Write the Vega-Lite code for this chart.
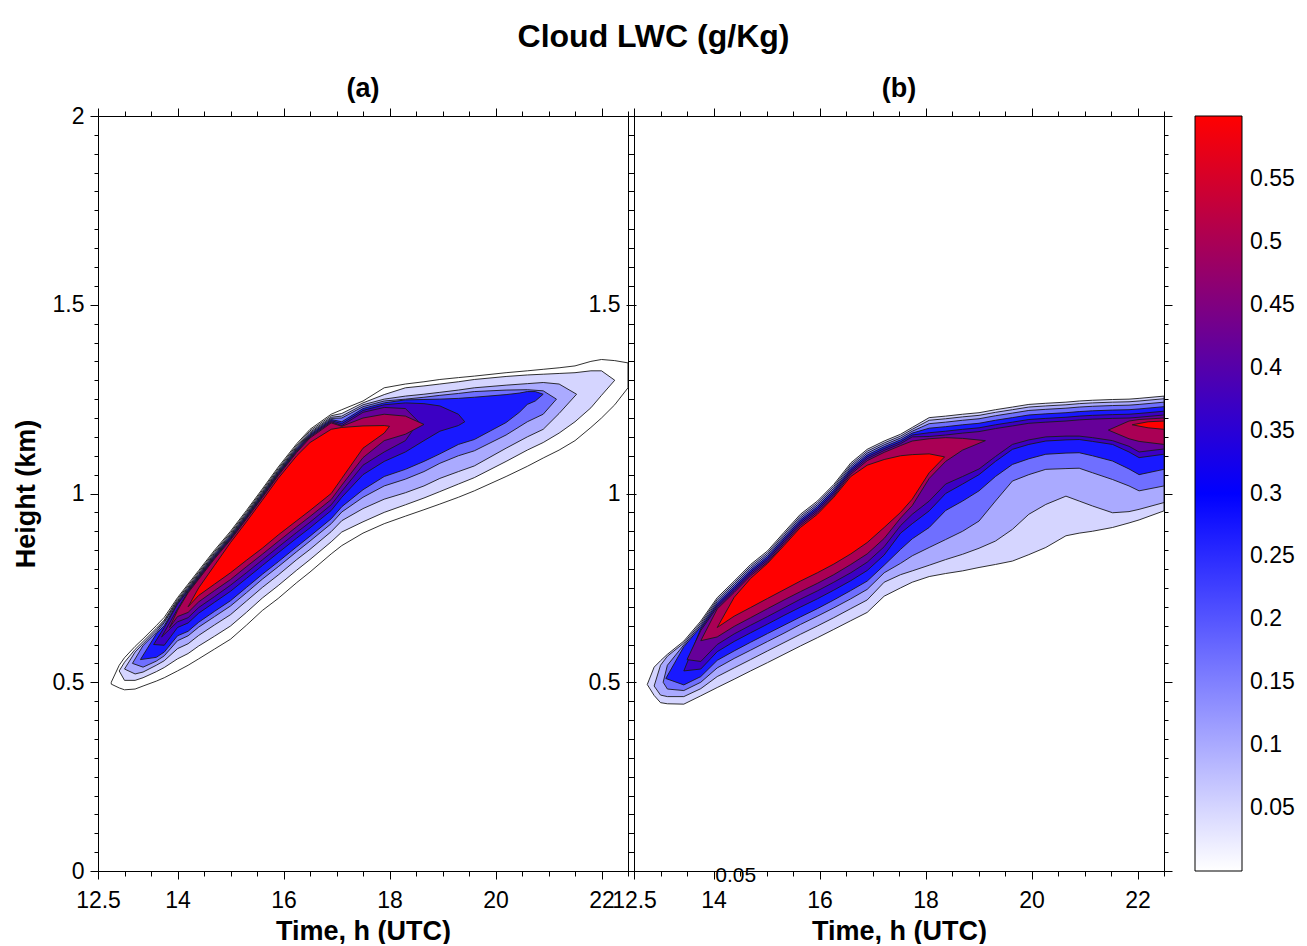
{
"$schema": "https://vega.github.io/schema/vega-lite/v6.json",
"padding": {"left": 12, "top": 21, "right": 5, "bottom": 0},
"title": {"text": "Cloud LWC (g/Kg)", "anchor": "middle", "offset": 21, "fontSize": 32, "fontWeight": "bold"},
"datasets": {
"a": [
{"band":"L0","lwc":0,"t":12.75,"lo":0.495,"hi":0.5},{"band":"L0","lwc":0,"t":12.9,"lo":0.485,"hi":0.545},{"band":"L0","lwc":0,"t":13.0,"lo":0.48,"hi":0.565},{"band":"L0","lwc":0,"t":13.2,"lo":0.482,"hi":0.595},{"band":"L0","lwc":0,"t":13.35,"lo":0.49,"hi":0.615},{"band":"L0","lwc":0,"t":13.6,"lo":0.503,"hi":0.65},{"band":"L0","lwc":0,"t":13.75,"lo":0.512,"hi":0.672},{"band":"L0","lwc":0,"t":14.0,"lo":0.53,"hi":0.724},{"band":"L0","lwc":0,"t":14.2,"lo":0.545,"hi":0.76},{"band":"L0","lwc":0,"t":14.4,"lo":0.562,"hi":0.796},{"band":"L0","lwc":0,"t":14.7,"lo":0.588,"hi":0.85},{"band":"L0","lwc":0,"t":15.0,"lo":0.614,"hi":0.9},{"band":"L0","lwc":0,"t":15.3,"lo":0.651,"hi":0.955},{"band":"L0","lwc":0,"t":15.6,"lo":0.69,"hi":1.012},{"band":"L0","lwc":0,"t":15.9,"lo":0.722,"hi":1.07},{"band":"L0","lwc":0,"t":16.25,"lo":0.764,"hi":1.132},{"band":"L0","lwc":0,"t":16.5,"lo":0.792,"hi":1.17},{"band":"L0","lwc":0,"t":16.9,"lo":0.84,"hi":1.21},{"band":"L0","lwc":0,"t":17.1,"lo":0.862,"hi":1.222},{"band":"L0","lwc":0,"t":17.5,"lo":0.895,"hi":1.245},{"band":"L0","lwc":0,"t":17.9,"lo":0.92,"hi":1.28},{"band":"L0","lwc":0,"t":18.3,"lo":0.94,"hi":1.29},{"band":"L0","lwc":0,"t":18.65,"lo":0.957,"hi":1.296},{"band":"L0","lwc":0,"t":18.95,"lo":0.972,"hi":1.302},{"band":"L0","lwc":0,"t":19.3,"lo":0.99,"hi":1.307},{"band":"L0","lwc":0,"t":19.6,"lo":1.007,"hi":1.311},{"band":"L0","lwc":0,"t":20.2,"lo":1.045,"hi":1.32},{"band":"L0","lwc":0,"t":20.6,"lo":1.072,"hi":1.325},{"band":"L0","lwc":0,"t":20.9,"lo":1.094,"hi":1.329},{"band":"L0","lwc":0,"t":21.2,"lo":1.115,"hi":1.333},{"band":"L0","lwc":0,"t":21.5,"lo":1.14,"hi":1.338},{"band":"L0","lwc":0,"t":21.8,"lo":1.175,"hi":1.35},{"band":"L0","lwc":0,"t":22.0,"lo":1.2,"hi":1.355},{"band":"L0","lwc":0,"t":22.25,"lo":1.235,"hi":1.352},{"band":"L0","lwc":0,"t":22.5,"lo":1.28,"hi":1.346},
{"band":"L1","lwc":0.05,"t":12.9,"lo":0.53,"hi":0.53},{"band":"L1","lwc":0.05,"t":13.0,"lo":0.505,"hi":0.553},{"band":"L1","lwc":0.05,"t":13.2,"lo":0.505,"hi":0.587},{"band":"L1","lwc":0.05,"t":13.35,"lo":0.512,"hi":0.608},{"band":"L1","lwc":0.05,"t":13.6,"lo":0.528,"hi":0.643},{"band":"L1","lwc":0.05,"t":13.75,"lo":0.539,"hi":0.665},{"band":"L1","lwc":0.05,"t":14.0,"lo":0.562,"hi":0.72},{"band":"L1","lwc":0.05,"t":14.2,"lo":0.576,"hi":0.756},{"band":"L1","lwc":0.05,"t":14.4,"lo":0.596,"hi":0.792},{"band":"L1","lwc":0.05,"t":14.7,"lo":0.622,"hi":0.846},{"band":"L1","lwc":0.05,"t":15.0,"lo":0.649,"hi":0.896},{"band":"L1","lwc":0.05,"t":15.3,"lo":0.685,"hi":0.951},{"band":"L1","lwc":0.05,"t":15.6,"lo":0.723,"hi":1.008},{"band":"L1","lwc":0.05,"t":15.9,"lo":0.756,"hi":1.066},{"band":"L1","lwc":0.05,"t":16.25,"lo":0.797,"hi":1.128},{"band":"L1","lwc":0.05,"t":16.5,"lo":0.825,"hi":1.166},{"band":"L1","lwc":0.05,"t":16.9,"lo":0.872,"hi":1.206},{"band":"L1","lwc":0.05,"t":17.1,"lo":0.898,"hi":1.212},{"band":"L1","lwc":0.05,"t":17.5,"lo":0.925,"hi":1.24},{"band":"L1","lwc":0.05,"t":17.9,"lo":0.95,"hi":1.262},{"band":"L1","lwc":0.05,"t":18.3,"lo":0.97,"hi":1.28},{"band":"L1","lwc":0.05,"t":18.65,"lo":0.988,"hi":1.285},{"band":"L1","lwc":0.05,"t":18.95,"lo":1.005,"hi":1.29},{"band":"L1","lwc":0.05,"t":19.3,"lo":1.025,"hi":1.296},{"band":"L1","lwc":0.05,"t":19.6,"lo":1.042,"hi":1.302},{"band":"L1","lwc":0.05,"t":20.2,"lo":1.085,"hi":1.31},{"band":"L1","lwc":0.05,"t":20.6,"lo":1.115,"hi":1.314},{"band":"L1","lwc":0.05,"t":20.9,"lo":1.135,"hi":1.316},{"band":"L1","lwc":0.05,"t":21.2,"lo":1.16,"hi":1.318},{"band":"L1","lwc":0.05,"t":21.5,"lo":1.19,"hi":1.32},{"band":"L1","lwc":0.05,"t":21.8,"lo":1.227,"hi":1.325},{"band":"L1","lwc":0.05,"t":22.0,"lo":1.26,"hi":1.325},{"band":"L1","lwc":0.05,"t":22.25,"lo":1.3,"hi":1.3},
{"band":"L2","lwc":0.1,"t":13.0,"lo":0.535,"hi":0.535},{"band":"L2","lwc":0.1,"t":13.2,"lo":0.522,"hi":0.58},{"band":"L2","lwc":0.1,"t":13.35,"lo":0.527,"hi":0.602},{"band":"L2","lwc":0.1,"t":13.6,"lo":0.545,"hi":0.638},{"band":"L2","lwc":0.1,"t":13.75,"lo":0.557,"hi":0.662},{"band":"L2","lwc":0.1,"t":14.0,"lo":0.589,"hi":0.716},{"band":"L2","lwc":0.1,"t":14.2,"lo":0.602,"hi":0.752},{"band":"L2","lwc":0.1,"t":14.4,"lo":0.624,"hi":0.788},{"band":"L2","lwc":0.1,"t":14.7,"lo":0.652,"hi":0.842},{"band":"L2","lwc":0.1,"t":15.0,"lo":0.679,"hi":0.892},{"band":"L2","lwc":0.1,"t":15.3,"lo":0.715,"hi":0.947},{"band":"L2","lwc":0.1,"t":15.6,"lo":0.751,"hi":1.004},{"band":"L2","lwc":0.1,"t":15.9,"lo":0.784,"hi":1.062},{"band":"L2","lwc":0.1,"t":16.25,"lo":0.825,"hi":1.124},{"band":"L2","lwc":0.1,"t":16.5,"lo":0.852,"hi":1.162},{"band":"L2","lwc":0.1,"t":16.9,"lo":0.899,"hi":1.202},{"band":"L2","lwc":0.1,"t":17.1,"lo":0.928,"hi":1.205},{"band":"L2","lwc":0.1,"t":17.5,"lo":0.96,"hi":1.235},{"band":"L2","lwc":0.1,"t":17.9,"lo":0.985,"hi":1.25},{"band":"L2","lwc":0.1,"t":18.3,"lo":1.002,"hi":1.258},{"band":"L2","lwc":0.1,"t":18.65,"lo":1.02,"hi":1.263},{"band":"L2","lwc":0.1,"t":18.95,"lo":1.04,"hi":1.268},{"band":"L2","lwc":0.1,"t":19.3,"lo":1.058,"hi":1.274},{"band":"L2","lwc":0.1,"t":19.6,"lo":1.073,"hi":1.28},{"band":"L2","lwc":0.1,"t":20.2,"lo":1.12,"hi":1.287},{"band":"L2","lwc":0.1,"t":20.6,"lo":1.15,"hi":1.291},{"band":"L2","lwc":0.1,"t":20.9,"lo":1.17,"hi":1.294},{"band":"L2","lwc":0.1,"t":21.2,"lo":1.212,"hi":1.29},{"band":"L2","lwc":0.1,"t":21.53,"lo":1.263,"hi":1.263},
{"band":"L3","lwc":0.17,"t":13.15,"lo":0.55,"hi":0.55},{"band":"L3","lwc":0.17,"t":13.35,"lo":0.54,"hi":0.597},{"band":"L3","lwc":0.17,"t":13.6,"lo":0.556,"hi":0.632},{"band":"L3","lwc":0.17,"t":13.75,"lo":0.57,"hi":0.658},{"band":"L3","lwc":0.17,"t":14.0,"lo":0.61,"hi":0.713},{"band":"L3","lwc":0.17,"t":14.2,"lo":0.623,"hi":0.749},{"band":"L3","lwc":0.17,"t":14.4,"lo":0.646,"hi":0.785},{"band":"L3","lwc":0.17,"t":14.7,"lo":0.674,"hi":0.839},{"band":"L3","lwc":0.17,"t":15.0,"lo":0.702,"hi":0.889},{"band":"L3","lwc":0.17,"t":15.3,"lo":0.737,"hi":0.944},{"band":"L3","lwc":0.17,"t":15.6,"lo":0.773,"hi":1.001},{"band":"L3","lwc":0.17,"t":15.9,"lo":0.806,"hi":1.059},{"band":"L3","lwc":0.17,"t":16.25,"lo":0.846,"hi":1.121},{"band":"L3","lwc":0.17,"t":16.5,"lo":0.874,"hi":1.159},{"band":"L3","lwc":0.17,"t":16.9,"lo":0.92,"hi":1.199},{"band":"L3","lwc":0.17,"t":17.1,"lo":0.951,"hi":1.2},{"band":"L3","lwc":0.17,"t":17.5,"lo":0.99,"hi":1.23},{"band":"L3","lwc":0.17,"t":17.9,"lo":1.02,"hi":1.245},{"band":"L3","lwc":0.17,"t":18.3,"lo":1.038,"hi":1.25},{"band":"L3","lwc":0.17,"t":18.65,"lo":1.058,"hi":1.255},{"band":"L3","lwc":0.17,"t":18.95,"lo":1.08,"hi":1.26},{"band":"L3","lwc":0.17,"t":19.3,"lo":1.1,"hi":1.265},{"band":"L3","lwc":0.17,"t":19.6,"lo":1.113,"hi":1.27},{"band":"L3","lwc":0.17,"t":20.2,"lo":1.155,"hi":1.274},{"band":"L3","lwc":0.17,"t":20.6,"lo":1.19,"hi":1.275},{"band":"L3","lwc":0.17,"t":20.9,"lo":1.21,"hi":1.272},{"band":"L3","lwc":0.17,"t":21.15,"lo":1.25,"hi":1.25},
{"band":"L4","lwc":0.27,"t":13.3,"lo":0.56,"hi":0.56},{"band":"L4","lwc":0.27,"t":13.6,"lo":0.566,"hi":0.628},{"band":"L4","lwc":0.27,"t":13.75,"lo":0.58,"hi":0.65},{"band":"L4","lwc":0.27,"t":14.0,"lo":0.623,"hi":0.71},{"band":"L4","lwc":0.27,"t":14.2,"lo":0.635,"hi":0.746},{"band":"L4","lwc":0.27,"t":14.4,"lo":0.659,"hi":0.782},{"band":"L4","lwc":0.27,"t":14.7,"lo":0.688,"hi":0.836},{"band":"L4","lwc":0.27,"t":15.0,"lo":0.716,"hi":0.886},{"band":"L4","lwc":0.27,"t":15.3,"lo":0.751,"hi":0.941},{"band":"L4","lwc":0.27,"t":15.6,"lo":0.786,"hi":0.998},{"band":"L4","lwc":0.27,"t":15.9,"lo":0.819,"hi":1.056},{"band":"L4","lwc":0.27,"t":16.25,"lo":0.859,"hi":1.118},{"band":"L4","lwc":0.27,"t":16.5,"lo":0.887,"hi":1.156},{"band":"L4","lwc":0.27,"t":16.9,"lo":0.933,"hi":1.196},{"band":"L4","lwc":0.27,"t":17.1,"lo":0.965,"hi":1.19},{"band":"L4","lwc":0.27,"t":17.5,"lo":1.01,"hi":1.225},{"band":"L4","lwc":0.27,"t":17.9,"lo":1.045,"hi":1.24},{"band":"L4","lwc":0.27,"t":18.3,"lo":1.064,"hi":1.248},{"band":"L4","lwc":0.27,"t":18.65,"lo":1.085,"hi":1.249},{"band":"L4","lwc":0.27,"t":18.95,"lo":1.105,"hi":1.25},{"band":"L4","lwc":0.27,"t":19.3,"lo":1.13,"hi":1.252},{"band":"L4","lwc":0.27,"t":19.6,"lo":1.143,"hi":1.255},{"band":"L4","lwc":0.27,"t":20.2,"lo":1.188,"hi":1.262},{"band":"L4","lwc":0.27,"t":20.45,"lo":1.215,"hi":1.266},{"band":"L4","lwc":0.27,"t":20.6,"lo":1.236,"hi":1.27},{"band":"L4","lwc":0.27,"t":20.75,"lo":1.245,"hi":1.27},{"band":"L4","lwc":0.27,"t":20.9,"lo":1.263,"hi":1.263},
{"band":"L5","lwc":0.37,"t":13.55,"lo":0.6,"hi":0.6},{"band":"L5","lwc":0.37,"t":13.75,"lo":0.598,"hi":0.645},{"band":"L5","lwc":0.37,"t":14.0,"lo":0.645,"hi":0.707},{"band":"L5","lwc":0.37,"t":14.2,"lo":0.657,"hi":0.743},{"band":"L5","lwc":0.37,"t":14.4,"lo":0.683,"hi":0.779},{"band":"L5","lwc":0.37,"t":14.7,"lo":0.712,"hi":0.833},{"band":"L5","lwc":0.37,"t":15.0,"lo":0.741,"hi":0.883},{"band":"L5","lwc":0.37,"t":15.3,"lo":0.775,"hi":0.938},{"band":"L5","lwc":0.37,"t":15.6,"lo":0.809,"hi":0.995},{"band":"L5","lwc":0.37,"t":15.9,"lo":0.843,"hi":1.053},{"band":"L5","lwc":0.37,"t":16.25,"lo":0.882,"hi":1.115},{"band":"L5","lwc":0.37,"t":16.5,"lo":0.909,"hi":1.153},{"band":"L5","lwc":0.37,"t":16.9,"lo":0.955,"hi":1.193},{"band":"L5","lwc":0.37,"t":17.1,"lo":0.99,"hi":1.185},{"band":"L5","lwc":0.37,"t":17.5,"lo":1.05,"hi":1.22},{"band":"L5","lwc":0.37,"t":17.9,"lo":1.085,"hi":1.235},{"band":"L5","lwc":0.37,"t":18.3,"lo":1.11,"hi":1.24},{"band":"L5","lwc":0.37,"t":18.65,"lo":1.14,"hi":1.238},{"band":"L5","lwc":0.37,"t":18.95,"lo":1.165,"hi":1.232},{"band":"L5","lwc":0.37,"t":19.3,"lo":1.18,"hi":1.21},{"band":"L5","lwc":0.37,"t":19.42,"lo":1.19,"hi":1.19},
{"band":"L6","lwc":0.42,"t":13.7,"lo":0.62,"hi":0.62},{"band":"L6","lwc":0.42,"t":14.0,"lo":0.66,"hi":0.694},{"band":"L6","lwc":0.42,"t":14.2,"lo":0.671,"hi":0.74},{"band":"L6","lwc":0.42,"t":14.4,"lo":0.698,"hi":0.776},{"band":"L6","lwc":0.42,"t":14.7,"lo":0.727,"hi":0.83},{"band":"L6","lwc":0.42,"t":15.0,"lo":0.757,"hi":0.88},{"band":"L6","lwc":0.42,"t":15.3,"lo":0.79,"hi":0.935},{"band":"L6","lwc":0.42,"t":15.6,"lo":0.824,"hi":0.992},{"band":"L6","lwc":0.42,"t":15.9,"lo":0.858,"hi":1.05},{"band":"L6","lwc":0.42,"t":16.25,"lo":0.897,"hi":1.112},{"band":"L6","lwc":0.42,"t":16.5,"lo":0.924,"hi":1.15},{"band":"L6","lwc":0.42,"t":16.9,"lo":0.97,"hi":1.19},{"band":"L6","lwc":0.42,"t":17.1,"lo":1.006,"hi":1.18},{"band":"L6","lwc":0.42,"t":17.5,"lo":1.075,"hi":1.215},{"band":"L6","lwc":0.42,"t":17.9,"lo":1.11,"hi":1.228},{"band":"L6","lwc":0.42,"t":18.3,"lo":1.14,"hi":1.225},{"band":"L6","lwc":0.42,"t":18.55,"lo":1.19,"hi":1.19},
{"band":"L7","lwc":0.5,"t":13.85,"lo":0.645,"hi":0.645},{"band":"L7","lwc":0.5,"t":14.0,"lo":0.674,"hi":0.69},{"band":"L7","lwc":0.5,"t":14.2,"lo":0.685,"hi":0.737},{"band":"L7","lwc":0.5,"t":14.4,"lo":0.713,"hi":0.773},{"band":"L7","lwc":0.5,"t":14.7,"lo":0.743,"hi":0.827},{"band":"L7","lwc":0.5,"t":15.0,"lo":0.772,"hi":0.877},{"band":"L7","lwc":0.5,"t":15.3,"lo":0.806,"hi":0.932},{"band":"L7","lwc":0.5,"t":15.6,"lo":0.839,"hi":0.989},{"band":"L7","lwc":0.5,"t":15.9,"lo":0.873,"hi":1.047},{"band":"L7","lwc":0.5,"t":16.25,"lo":0.912,"hi":1.109},{"band":"L7","lwc":0.5,"t":16.5,"lo":0.939,"hi":1.147},{"band":"L7","lwc":0.5,"t":16.9,"lo":0.984,"hi":1.187},{"band":"L7","lwc":0.5,"t":17.1,"lo":1.022,"hi":1.178},{"band":"L7","lwc":0.5,"t":17.5,"lo":1.095,"hi":1.2},{"band":"L7","lwc":0.5,"t":17.9,"lo":1.14,"hi":1.21},{"band":"L7","lwc":0.5,"t":18.3,"lo":1.157,"hi":1.205},{"band":"L7","lwc":0.5,"t":18.65,"lo":1.183,"hi":1.183},
{"band":"L8","lwc":0.6,"t":14.2,"lo":0.7,"hi":0.7},{"band":"L8","lwc":0.6,"t":14.4,"lo":0.73,"hi":0.75},{"band":"L8","lwc":0.6,"t":14.7,"lo":0.76,"hi":0.81},{"band":"L8","lwc":0.6,"t":15.0,"lo":0.79,"hi":0.87},{"band":"L8","lwc":0.6,"t":15.3,"lo":0.823,"hi":0.925},{"band":"L8","lwc":0.6,"t":15.6,"lo":0.855,"hi":0.982},{"band":"L8","lwc":0.6,"t":15.9,"lo":0.89,"hi":1.04},{"band":"L8","lwc":0.6,"t":16.25,"lo":0.928,"hi":1.1},{"band":"L8","lwc":0.6,"t":16.5,"lo":0.955,"hi":1.135},{"band":"L8","lwc":0.6,"t":16.9,"lo":1.0,"hi":1.17},{"band":"L8","lwc":0.6,"t":17.1,"lo":1.04,"hi":1.175},{"band":"L8","lwc":0.6,"t":17.5,"lo":1.12,"hi":1.179},{"band":"L8","lwc":0.6,"t":17.9,"lo":1.16,"hi":1.18},{"band":"L8","lwc":0.6,"t":18.0,"lo":1.178,"hi":1.178}
],
"b": [
{"band":"L1","lwc":0.05,"t":12.75,"lo":0.494,"hi":0.494},{"band":"L1","lwc":0.05,"t":12.88,"lo":0.465,"hi":0.54},{"band":"L1","lwc":0.05,"t":13.0,"lo":0.446,"hi":0.557},{"band":"L1","lwc":0.05,"t":13.13,"lo":0.443,"hi":0.574},{"band":"L1","lwc":0.05,"t":13.44,"lo":0.442,"hi":0.609},{"band":"L1","lwc":0.05,"t":13.76,"lo":0.464,"hi":0.662},{"band":"L1","lwc":0.05,"t":14.07,"lo":0.486,"hi":0.724},{"band":"L1","lwc":0.05,"t":14.39,"lo":0.508,"hi":0.768},{"band":"L1","lwc":0.05,"t":14.7,"lo":0.53,"hi":0.812},{"band":"L1","lwc":0.05,"t":15.02,"lo":0.552,"hi":0.848},{"band":"L1","lwc":0.05,"t":15.33,"lo":0.574,"hi":0.897},{"band":"L1","lwc":0.05,"t":15.64,"lo":0.596,"hi":0.945},{"band":"L1","lwc":0.05,"t":15.96,"lo":0.618,"hi":0.98},{"band":"L1","lwc":0.05,"t":16.27,"lo":0.64,"hi":1.024},{"band":"L1","lwc":0.05,"t":16.59,"lo":0.663,"hi":1.081},{"band":"L1","lwc":0.05,"t":16.9,"lo":0.685,"hi":1.117},{"band":"L1","lwc":0.05,"t":17.22,"lo":0.728,"hi":1.139},{"band":"L1","lwc":0.05,"t":17.53,"lo":0.75,"hi":1.157},{"band":"L1","lwc":0.05,"t":17.75,"lo":0.765,"hi":1.175},{"band":"L1","lwc":0.05,"t":18.07,"lo":0.78,"hi":1.201},{"band":"L1","lwc":0.05,"t":18.38,"lo":0.788,"hi":1.205},{"band":"L1","lwc":0.05,"t":18.7,"lo":0.795,"hi":1.21},{"band":"L1","lwc":0.05,"t":19.01,"lo":0.804,"hi":1.214},{"band":"L1","lwc":0.05,"t":19.32,"lo":0.812,"hi":1.222},{"band":"L1","lwc":0.05,"t":19.64,"lo":0.821,"hi":1.229},{"band":"L1","lwc":0.05,"t":19.95,"lo":0.838,"hi":1.236},{"band":"L1","lwc":0.05,"t":20.27,"lo":0.857,"hi":1.239},{"band":"L1","lwc":0.05,"t":20.65,"lo":0.888,"hi":1.242},{"band":"L1","lwc":0.05,"t":20.9,"lo":0.895,"hi":1.245},{"band":"L1","lwc":0.05,"t":21.15,"lo":0.9,"hi":1.247},{"band":"L1","lwc":0.05,"t":21.53,"lo":0.91,"hi":1.249},{"band":"L1","lwc":0.05,"t":21.84,"lo":0.922,"hi":1.25},{"band":"L1","lwc":0.05,"t":22.03,"lo":0.93,"hi":1.252},{"band":"L1","lwc":0.05,"t":22.5,"lo":0.954,"hi":1.258},
{"band":"L2","lwc":0.1,"t":12.88,"lo":0.49,"hi":0.49},{"band":"L2","lwc":0.1,"t":13.0,"lo":0.466,"hi":0.545},{"band":"L2","lwc":0.1,"t":13.13,"lo":0.462,"hi":0.569},{"band":"L2","lwc":0.1,"t":13.44,"lo":0.462,"hi":0.604},{"band":"L2","lwc":0.1,"t":13.76,"lo":0.483,"hi":0.657},{"band":"L2","lwc":0.1,"t":14.07,"lo":0.515,"hi":0.719},{"band":"L2","lwc":0.1,"t":14.39,"lo":0.538,"hi":0.763},{"band":"L2","lwc":0.1,"t":14.7,"lo":0.56,"hi":0.807},{"band":"L2","lwc":0.1,"t":15.02,"lo":0.583,"hi":0.843},{"band":"L2","lwc":0.1,"t":15.33,"lo":0.605,"hi":0.892},{"band":"L2","lwc":0.1,"t":15.64,"lo":0.627,"hi":0.94},{"band":"L2","lwc":0.1,"t":15.96,"lo":0.649,"hi":0.975},{"band":"L2","lwc":0.1,"t":16.27,"lo":0.671,"hi":1.019},{"band":"L2","lwc":0.1,"t":16.59,"lo":0.695,"hi":1.076},{"band":"L2","lwc":0.1,"t":16.9,"lo":0.718,"hi":1.112},{"band":"L2","lwc":0.1,"t":17.22,"lo":0.765,"hi":1.134},{"band":"L2","lwc":0.1,"t":17.53,"lo":0.785,"hi":1.152},{"band":"L2","lwc":0.1,"t":17.75,"lo":0.795,"hi":1.17},{"band":"L2","lwc":0.1,"t":18.07,"lo":0.81,"hi":1.194},{"band":"L2","lwc":0.1,"t":18.38,"lo":0.825,"hi":1.198},{"band":"L2","lwc":0.1,"t":18.7,"lo":0.839,"hi":1.203},{"band":"L2","lwc":0.1,"t":19.01,"lo":0.855,"hi":1.207},{"band":"L2","lwc":0.1,"t":19.32,"lo":0.874,"hi":1.215},{"band":"L2","lwc":0.1,"t":19.64,"lo":0.905,"hi":1.222},{"band":"L2","lwc":0.1,"t":19.95,"lo":0.945,"hi":1.229},{"band":"L2","lwc":0.1,"t":20.27,"lo":0.971,"hi":1.232},{"band":"L2","lwc":0.1,"t":20.65,"lo":0.993,"hi":1.235},{"band":"L2","lwc":0.1,"t":20.9,"lo":0.98,"hi":1.238},{"band":"L2","lwc":0.1,"t":21.15,"lo":0.967,"hi":1.24},{"band":"L2","lwc":0.1,"t":21.53,"lo":0.949,"hi":1.242},{"band":"L2","lwc":0.1,"t":21.84,"lo":0.952,"hi":1.243},{"band":"L2","lwc":0.1,"t":22.03,"lo":0.958,"hi":1.245},{"band":"L2","lwc":0.1,"t":22.5,"lo":0.976,"hi":1.251},
{"band":"L3","lwc":0.17,"t":13.05,"lo":0.5,"hi":0.5},{"band":"L3","lwc":0.17,"t":13.13,"lo":0.482,"hi":0.545},{"band":"L3","lwc":0.17,"t":13.44,"lo":0.478,"hi":0.599},{"band":"L3","lwc":0.17,"t":13.76,"lo":0.5,"hi":0.652},{"band":"L3","lwc":0.17,"t":14.07,"lo":0.538,"hi":0.714},{"band":"L3","lwc":0.17,"t":14.39,"lo":0.563,"hi":0.758},{"band":"L3","lwc":0.17,"t":14.7,"lo":0.585,"hi":0.802},{"band":"L3","lwc":0.17,"t":15.02,"lo":0.608,"hi":0.838},{"band":"L3","lwc":0.17,"t":15.33,"lo":0.63,"hi":0.887},{"band":"L3","lwc":0.17,"t":15.64,"lo":0.653,"hi":0.935},{"band":"L3","lwc":0.17,"t":15.96,"lo":0.675,"hi":0.97},{"band":"L3","lwc":0.17,"t":16.27,"lo":0.697,"hi":1.014},{"band":"L3","lwc":0.17,"t":16.59,"lo":0.721,"hi":1.071},{"band":"L3","lwc":0.17,"t":16.9,"lo":0.746,"hi":1.107},{"band":"L3","lwc":0.17,"t":17.22,"lo":0.79,"hi":1.129},{"band":"L3","lwc":0.17,"t":17.53,"lo":0.815,"hi":1.147},{"band":"L3","lwc":0.17,"t":17.75,"lo":0.835,"hi":1.165},{"band":"L3","lwc":0.17,"t":18.07,"lo":0.857,"hi":1.185},{"band":"L3","lwc":0.17,"t":18.38,"lo":0.878,"hi":1.189},{"band":"L3","lwc":0.17,"t":18.7,"lo":0.9,"hi":1.194},{"band":"L3","lwc":0.17,"t":19.01,"lo":0.927,"hi":1.198},{"band":"L3","lwc":0.17,"t":19.32,"lo":0.98,"hi":1.206},{"band":"L3","lwc":0.17,"t":19.64,"lo":1.033,"hi":1.213},{"band":"L3","lwc":0.17,"t":19.95,"lo":1.05,"hi":1.22},{"band":"L3","lwc":0.17,"t":20.27,"lo":1.064,"hi":1.223},{"band":"L3","lwc":0.17,"t":20.65,"lo":1.066,"hi":1.226},{"band":"L3","lwc":0.17,"t":20.9,"lo":1.067,"hi":1.229},{"band":"L3","lwc":0.17,"t":21.15,"lo":1.055,"hi":1.231},{"band":"L3","lwc":0.17,"t":21.53,"lo":1.037,"hi":1.233},{"band":"L3","lwc":0.17,"t":21.84,"lo":1.02,"hi":1.234},{"band":"L3","lwc":0.17,"t":22.03,"lo":1.007,"hi":1.236},{"band":"L3","lwc":0.17,"t":22.5,"lo":1.02,"hi":1.242},
{"band":"L4","lwc":0.27,"t":13.1,"lo":0.51,"hi":0.51},{"band":"L4","lwc":0.27,"t":13.44,"lo":0.493,"hi":0.594},{"band":"L4","lwc":0.27,"t":13.76,"lo":0.515,"hi":0.647},{"band":"L4","lwc":0.27,"t":14.07,"lo":0.558,"hi":0.709},{"band":"L4","lwc":0.27,"t":14.39,"lo":0.583,"hi":0.753},{"band":"L4","lwc":0.27,"t":14.7,"lo":0.606,"hi":0.797},{"band":"L4","lwc":0.27,"t":15.02,"lo":0.629,"hi":0.833},{"band":"L4","lwc":0.27,"t":15.33,"lo":0.651,"hi":0.882},{"band":"L4","lwc":0.27,"t":15.64,"lo":0.673,"hi":0.93},{"band":"L4","lwc":0.27,"t":15.96,"lo":0.695,"hi":0.965},{"band":"L4","lwc":0.27,"t":16.27,"lo":0.718,"hi":1.009},{"band":"L4","lwc":0.27,"t":16.59,"lo":0.743,"hi":1.066},{"band":"L4","lwc":0.27,"t":16.9,"lo":0.768,"hi":1.102},{"band":"L4","lwc":0.27,"t":17.22,"lo":0.81,"hi":1.124},{"band":"L4","lwc":0.27,"t":17.53,"lo":0.852,"hi":1.142},{"band":"L4","lwc":0.27,"t":17.75,"lo":0.88,"hi":1.16},{"band":"L4","lwc":0.27,"t":18.07,"lo":0.91,"hi":1.173},{"band":"L4","lwc":0.27,"t":18.38,"lo":0.955,"hi":1.177},{"band":"L4","lwc":0.27,"t":18.7,"lo":0.98,"hi":1.182},{"band":"L4","lwc":0.27,"t":19.01,"lo":1.007,"hi":1.186},{"band":"L4","lwc":0.27,"t":19.32,"lo":1.045,"hi":1.194},{"band":"L4","lwc":0.27,"t":19.64,"lo":1.077,"hi":1.201},{"band":"L4","lwc":0.27,"t":19.95,"lo":1.092,"hi":1.208},{"band":"L4","lwc":0.27,"t":20.27,"lo":1.104,"hi":1.211},{"band":"L4","lwc":0.27,"t":20.65,"lo":1.107,"hi":1.214},{"band":"L4","lwc":0.27,"t":20.9,"lo":1.108,"hi":1.217},{"band":"L4","lwc":0.27,"t":21.15,"lo":1.1,"hi":1.219},{"band":"L4","lwc":0.27,"t":21.53,"lo":1.086,"hi":1.221},{"band":"L4","lwc":0.27,"t":21.84,"lo":1.065,"hi":1.222},{"band":"L4","lwc":0.27,"t":22.03,"lo":1.05,"hi":1.224},{"band":"L4","lwc":0.27,"t":22.5,"lo":1.064,"hi":1.23},
{"band":"L5","lwc":0.37,"t":13.44,"lo":0.53,"hi":0.53},{"band":"L5","lwc":0.37,"t":13.76,"lo":0.535,"hi":0.642},{"band":"L5","lwc":0.37,"t":14.07,"lo":0.581,"hi":0.704},{"band":"L5","lwc":0.37,"t":14.39,"lo":0.608,"hi":0.748},{"band":"L5","lwc":0.37,"t":14.7,"lo":0.631,"hi":0.792},{"band":"L5","lwc":0.37,"t":15.02,"lo":0.654,"hi":0.828},{"band":"L5","lwc":0.37,"t":15.33,"lo":0.677,"hi":0.877},{"band":"L5","lwc":0.37,"t":15.64,"lo":0.699,"hi":0.925},{"band":"L5","lwc":0.37,"t":15.96,"lo":0.721,"hi":0.96},{"band":"L5","lwc":0.37,"t":16.27,"lo":0.744,"hi":1.004},{"band":"L5","lwc":0.37,"t":16.59,"lo":0.769,"hi":1.061},{"band":"L5","lwc":0.37,"t":16.9,"lo":0.796,"hi":1.097},{"band":"L5","lwc":0.37,"t":17.22,"lo":0.837,"hi":1.119},{"band":"L5","lwc":0.37,"t":17.53,"lo":0.895,"hi":1.137},{"band":"L5","lwc":0.37,"t":17.75,"lo":0.92,"hi":1.155},{"band":"L5","lwc":0.37,"t":18.07,"lo":0.954,"hi":1.161},{"band":"L5","lwc":0.37,"t":18.38,"lo":1.0,"hi":1.165},{"band":"L5","lwc":0.37,"t":18.7,"lo":1.025,"hi":1.17},{"band":"L5","lwc":0.37,"t":19.01,"lo":1.05,"hi":1.174},{"band":"L5","lwc":0.37,"t":19.32,"lo":1.085,"hi":1.182},{"band":"L5","lwc":0.37,"t":19.64,"lo":1.117,"hi":1.189},{"band":"L5","lwc":0.37,"t":19.95,"lo":1.13,"hi":1.196},{"band":"L5","lwc":0.37,"t":20.27,"lo":1.139,"hi":1.199},{"band":"L5","lwc":0.37,"t":20.65,"lo":1.142,"hi":1.202},{"band":"L5","lwc":0.37,"t":20.9,"lo":1.143,"hi":1.205},{"band":"L5","lwc":0.37,"t":21.15,"lo":1.138,"hi":1.207},{"band":"L5","lwc":0.37,"t":21.53,"lo":1.13,"hi":1.209},{"band":"L5","lwc":0.37,"t":21.84,"lo":1.11,"hi":1.21},{"band":"L5","lwc":0.37,"t":22.03,"lo":1.095,"hi":1.212},{"band":"L5","lwc":0.37,"t":22.5,"lo":1.104,"hi":1.218},
{"band":"L6","lwc":0.42,"t":13.5,"lo":0.56,"hi":0.56},{"band":"L6","lwc":0.42,"t":13.76,"lo":0.555,"hi":0.637},{"band":"L6","lwc":0.42,"t":14.07,"lo":0.6,"hi":0.699},{"band":"L6","lwc":0.42,"t":14.39,"lo":0.628,"hi":0.743},{"band":"L6","lwc":0.42,"t":14.7,"lo":0.651,"hi":0.787},{"band":"L6","lwc":0.42,"t":15.02,"lo":0.674,"hi":0.823},{"band":"L6","lwc":0.42,"t":15.33,"lo":0.697,"hi":0.872},{"band":"L6","lwc":0.42,"t":15.64,"lo":0.72,"hi":0.92},{"band":"L6","lwc":0.42,"t":15.96,"lo":0.742,"hi":0.955},{"band":"L6","lwc":0.42,"t":16.27,"lo":0.765,"hi":0.999},{"band":"L6","lwc":0.42,"t":16.59,"lo":0.79,"hi":1.056},{"band":"L6","lwc":0.42,"t":16.9,"lo":0.818,"hi":1.092},{"band":"L6","lwc":0.42,"t":17.22,"lo":0.859,"hi":1.114},{"band":"L6","lwc":0.42,"t":17.53,"lo":0.915,"hi":1.132},{"band":"L6","lwc":0.42,"t":17.75,"lo":0.945,"hi":1.15},{"band":"L6","lwc":0.42,"t":18.07,"lo":0.98,"hi":1.151},{"band":"L6","lwc":0.42,"t":18.38,"lo":1.025,"hi":1.155},{"band":"L6","lwc":0.42,"t":18.7,"lo":1.045,"hi":1.16},{"band":"L6","lwc":0.42,"t":19.01,"lo":1.065,"hi":1.164},{"band":"L6","lwc":0.42,"t":19.32,"lo":1.098,"hi":1.172},{"band":"L6","lwc":0.42,"t":19.64,"lo":1.13,"hi":1.179},{"band":"L6","lwc":0.42,"t":19.95,"lo":1.142,"hi":1.186},{"band":"L6","lwc":0.42,"t":20.27,"lo":1.15,"hi":1.189},{"band":"L6","lwc":0.42,"t":20.65,"lo":1.152,"hi":1.192},{"band":"L6","lwc":0.42,"t":20.9,"lo":1.152,"hi":1.195},{"band":"L6","lwc":0.42,"t":21.15,"lo":1.148,"hi":1.197},{"band":"L6","lwc":0.42,"t":21.53,"lo":1.14,"hi":1.199},{"band":"L6","lwc":0.42,"t":21.84,"lo":1.125,"hi":1.2},{"band":"L6","lwc":0.42,"t":22.03,"lo":1.11,"hi":1.202},{"band":"L6","lwc":0.42,"t":22.5,"lo":1.118,"hi":1.208},
{"band":"L7","lwc":0.5,"t":13.76,"lo":0.61,"hi":0.61},{"band":"L7","lwc":0.5,"t":14.07,"lo":0.62,"hi":0.694},{"band":"L7","lwc":0.5,"t":14.39,"lo":0.648,"hi":0.738},{"band":"L7","lwc":0.5,"t":14.7,"lo":0.671,"hi":0.782},{"band":"L7","lwc":0.5,"t":15.02,"lo":0.695,"hi":0.818},{"band":"L7","lwc":0.5,"t":15.33,"lo":0.718,"hi":0.867},{"band":"L7","lwc":0.5,"t":15.64,"lo":0.74,"hi":0.915},{"band":"L7","lwc":0.5,"t":15.96,"lo":0.762,"hi":0.95},{"band":"L7","lwc":0.5,"t":16.27,"lo":0.785,"hi":0.994},{"band":"L7","lwc":0.5,"t":16.59,"lo":0.812,"hi":1.051},{"band":"L7","lwc":0.5,"t":16.9,"lo":0.84,"hi":1.087},{"band":"L7","lwc":0.5,"t":17.22,"lo":0.881,"hi":1.109},{"band":"L7","lwc":0.5,"t":17.53,"lo":0.935,"hi":1.127},{"band":"L7","lwc":0.5,"t":17.75,"lo":0.968,"hi":1.139},{"band":"L7","lwc":0.5,"t":18.07,"lo":1.04,"hi":1.145},{"band":"L7","lwc":0.5,"t":18.38,"lo":1.085,"hi":1.148},{"band":"L7","lwc":0.5,"t":18.7,"lo":1.115,"hi":1.146},{"band":"L7","lwc":0.5,"t":19.13,"lo":1.14,"hi":1.14},
{"band":"L7b","lwc":0.5,"t":21.45,"lo":1.168,"hi":1.168},{"band":"L7b","lwc":0.5,"t":21.84,"lo":1.145,"hi":1.192},{"band":"L7b","lwc":0.5,"t":22.03,"lo":1.138,"hi":1.196},{"band":"L7b","lwc":0.5,"t":22.5,"lo":1.13,"hi":1.2},
{"band":"L8","lwc":0.6,"t":14.07,"lo":0.645,"hi":0.645},{"band":"L8","lwc":0.6,"t":14.39,"lo":0.675,"hi":0.725},{"band":"L8","lwc":0.6,"t":14.7,"lo":0.698,"hi":0.775},{"band":"L8","lwc":0.6,"t":15.02,"lo":0.722,"hi":0.815},{"band":"L8","lwc":0.6,"t":15.33,"lo":0.745,"hi":0.862},{"band":"L8","lwc":0.6,"t":15.64,"lo":0.768,"hi":0.91},{"band":"L8","lwc":0.6,"t":15.96,"lo":0.79,"hi":0.945},{"band":"L8","lwc":0.6,"t":16.27,"lo":0.813,"hi":0.99},{"band":"L8","lwc":0.6,"t":16.59,"lo":0.84,"hi":1.045},{"band":"L8","lwc":0.6,"t":16.9,"lo":0.87,"hi":1.075},{"band":"L8","lwc":0.6,"t":17.22,"lo":0.91,"hi":1.09},{"band":"L8","lwc":0.6,"t":17.53,"lo":0.95,"hi":1.1},{"band":"L8","lwc":0.6,"t":17.75,"lo":0.985,"hi":1.103},{"band":"L8","lwc":0.6,"t":18.07,"lo":1.055,"hi":1.105},{"band":"L8","lwc":0.6,"t":18.36,"lo":1.097,"hi":1.097},
{"band":"L8b","lwc":0.6,"t":21.9,"lo":1.182,"hi":1.182},{"band":"L8b","lwc":0.6,"t":22.2,"lo":1.174,"hi":1.19},{"band":"L8b","lwc":0.6,"t":22.5,"lo":1.17,"hi":1.192}
],
"blabel": [{"label": "0.05", "t": 14.42, "h": -0.012}]
},
"hconcat": [
{
"width": 530, "height": 755,
"title": {"text": "(a)", "fontSize": 27, "fontWeight": "bold", "offset": 2},
"data": {"name": "a"},
"resolve": {"axis": {"x": "independent", "y": "independent"}},
"layer": [
{"mark": {"type": "area", "stroke": "#1a1a1a", "strokeWidth": 0.9, "clip": true},
 "encoding": {
  "x": {"field": "t", "type": "quantitative", "scale": {"domain": [12.5, 22.5], "nice": false, "zero": false},
        "axis": {"orient": "bottom", "values": [12.5,13,13.5,14,14.5,15,15.5,16,16.5,17,17.5,18,18.5,19,19.5,20,20.5,21,21.5,22,22.5], "title": "Time, h (UTC)", "titlePadding": 6, "labelPadding": 10,
                 "labelExpr": "indexof([12.5,14,16,18,20,22], datum.value) >= 0 ? '' + datum.value : ''",
                 "tickSize": {"condition": {"test": "indexof([12.5,14,16,18,20,22], datum.value) >= 0", "value": 8}, "value": 5}}},
  "y": {"field": "lo", "type": "quantitative", "stack": null, "scale": {"domain": [0, 2], "nice": false, "zero": false},
        "axis": {"orient": "left", "values": [0,0.05,0.1,0.15,0.2,0.25,0.3,0.35,0.4,0.45,0.5,0.55,0.6,0.65,0.7,0.75,0.8,0.85,0.9,0.95,1,1.05,1.1,1.15,1.2,1.25,1.3,1.35,1.4,1.45,1.5,1.55,1.6,1.65,1.7,1.75,1.8,1.85,1.9,1.95,2], "title": "Height (km)", "titlePadding": 12, "labelPadding": 6,
                 "labelExpr": "abs(datum.value*2 - round(datum.value*2)) < 0.001 ? '' + datum.value : ''",
                 "tickSize": {"condition": {"test": "abs(datum.value*2 - round(datum.value*2)) < 0.001", "value": 8}, "value": 4}}},
  "y2": {"field": "hi"},
  "color": {"field": "lwc", "type": "quantitative", "scale": {"domain": [0, 0.3, 0.6], "range": ["#ffffff", "#0000ff", "#ff0000"], "interpolate": "rgb"},
            "legend": {"title": null, "direction": "vertical", "orient": "right", "gradientLength": 755, "gradientThickness": 47, "gradientStrokeColor": "black", "gradientStrokeWidth": 1, "values": [0.05,0.1,0.15,0.2,0.25,0.3,0.35,0.4,0.45,0.5,0.55], "format": "~g", "labelFontSize": 23, "labelColor": "black", "labelOffset": 8, "labelOverlap": false, "offset": 22}},
  "detail": {"field": "band", "type": "nominal"}
 }},
{"mark": {"type": "point", "opacity": 0},
 "encoding": {
  "x": {"field": "t", "type": "quantitative", "scale": {"domain": [12.5, 22.5], "nice": false, "zero": false},
        "axis": {"orient": "top", "values": [12.5,13,13.5,14,14.5,15,15.5,16,16.5,17,17.5,18,18.5,19,19.5,20,20.5,21,21.5,22,22.5], "title": null, "labels": false,
                 "tickSize": {"condition": {"test": "indexof([12.5,14,16,18,20,22], datum.value) >= 0", "value": 8}, "value": 5}}},
  "y": {"field": "lo", "type": "quantitative", "scale": {"domain": [0, 2], "nice": false, "zero": false},
        "axis": {"orient": "right", "values": [0,0.05,0.1,0.15,0.2,0.25,0.3,0.35,0.4,0.45,0.5,0.55,0.6,0.65,0.7,0.75,0.8,0.85,0.9,0.95,1,1.05,1.1,1.15,1.2,1.25,1.3,1.35,1.4,1.45,1.5,1.55,1.6,1.65,1.7,1.75,1.8,1.85,1.9,1.95,2], "title": null, "labels": false,
                 "tickSize": {"condition": {"test": "abs(datum.value*2 - round(datum.value*2)) < 0.001", "value": 8}, "value": 4}}}
 }}
]
},
{
"width": 530, "height": 755,
"title": {"text": "(b)", "fontSize": 27, "fontWeight": "bold", "offset": 2},
"resolve": {"axis": {"x": "independent", "y": "independent"}},
"layer": [
{"data": {"name": "b"},
 "mark": {"type": "area", "stroke": "#1a1a1a", "strokeWidth": 0.9, "clip": true},
 "encoding": {
  "x": {"field": "t", "type": "quantitative", "scale": {"domain": [12.5, 22.5], "nice": false, "zero": false},
        "axis": {"orient": "bottom", "values": [12.5,13,13.5,14,14.5,15,15.5,16,16.5,17,17.5,18,18.5,19,19.5,20,20.5,21,21.5,22,22.5], "title": "Time, h (UTC)", "titlePadding": 6, "labelPadding": 10,
                 "labelExpr": "indexof([12.5,14,16,18,20,22], datum.value) >= 0 ? '' + datum.value : ''",
                 "tickSize": {"condition": {"test": "indexof([12.5,14,16,18,20,22], datum.value) >= 0", "value": 8}, "value": 5}}},
  "y": {"field": "lo", "type": "quantitative", "stack": null, "scale": {"domain": [0, 2], "nice": false, "zero": false},
        "axis": {"orient": "left", "values": [0,0.05,0.1,0.15,0.2,0.25,0.3,0.35,0.4,0.45,0.5,0.55,0.6,0.65,0.7,0.75,0.8,0.85,0.9,0.95,1,1.05,1.1,1.15,1.2,1.25,1.3,1.35,1.4,1.45,1.5,1.55,1.6,1.65,1.7,1.75,1.8,1.85,1.9,1.95,2], "title": null, "labelPadding": 6,
                 "labelExpr": "(datum.value == 0.5 || datum.value == 1 || datum.value == 1.5) ? '' + datum.value : ''",
                 "tickSize": {"condition": {"test": "abs(datum.value*2 - round(datum.value*2)) < 0.001", "value": 8}, "value": 4}}},
  "y2": {"field": "hi"},
  "color": {"field": "lwc", "type": "quantitative", "scale": {"domain": [0, 0.3, 0.6], "range": ["#ffffff", "#0000ff", "#ff0000"], "interpolate": "rgb"},
            "legend": {"title": null, "direction": "vertical", "orient": "right", "gradientLength": 755, "gradientThickness": 47, "gradientStrokeColor": "black", "gradientStrokeWidth": 1, "values": [0.05,0.1,0.15,0.2,0.25,0.3,0.35,0.4,0.45,0.5,0.55], "format": "~g", "labelFontSize": 23, "labelColor": "black", "labelOffset": 8, "labelOverlap": false, "offset": 22}},
  "detail": {"field": "band", "type": "nominal"}
 }},
{"data": {"name": "b"},
 "mark": {"type": "point", "opacity": 0},
 "encoding": {
  "x": {"field": "t", "type": "quantitative", "scale": {"domain": [12.5, 22.5], "nice": false, "zero": false},
        "axis": {"orient": "top", "values": [12.5,13,13.5,14,14.5,15,15.5,16,16.5,17,17.5,18,18.5,19,19.5,20,20.5,21,21.5,22,22.5], "title": null, "labels": false,
                 "tickSize": {"condition": {"test": "indexof([12.5,14,16,18,20,22], datum.value) >= 0", "value": 8}, "value": 5}}},
  "y": {"field": "lo", "type": "quantitative", "scale": {"domain": [0, 2], "nice": false, "zero": false},
        "axis": {"orient": "right", "values": [0,0.05,0.1,0.15,0.2,0.25,0.3,0.35,0.4,0.45,0.5,0.55,0.6,0.65,0.7,0.75,0.8,0.85,0.9,0.95,1,1.05,1.1,1.15,1.2,1.25,1.3,1.35,1.4,1.45,1.5,1.55,1.6,1.65,1.7,1.75,1.8,1.85,1.9,1.95,2], "title": null, "labels": false,
                 "tickSize": {"condition": {"test": "abs(datum.value*2 - round(datum.value*2)) < 0.001", "value": 8}, "value": 4}}}
 }},
{"data": {"name": "blabel"},
 "mark": {"type": "text", "fontSize": 21, "baseline": "middle", "align": "center", "color": "black"},
 "encoding": {
  "x": {"field": "t", "type": "quantitative", "axis": null},
  "y": {"field": "h", "type": "quantitative", "axis": null},
  "text": {"field": "label"}
 }}
]
}
],
"spacing": 6,
"bounds": "flush",
"resolve": {"scale": {"color": "shared"}},
"config": {
 "font": "Liberation Sans",
 "view": {"stroke": null},
 "axis": {"domainColor": "black", "tickColor": "black", "labelColor": "black", "titleColor": "black", "grid": false, "labelFontSize": 23, "titleFontSize": 27, "titleFontWeight": "bold", "labelOverlap": false, "labelFlush": false, "domainWidth": 1, "tickWidth": 1},
 "title": {"color": "black"}
}
}
